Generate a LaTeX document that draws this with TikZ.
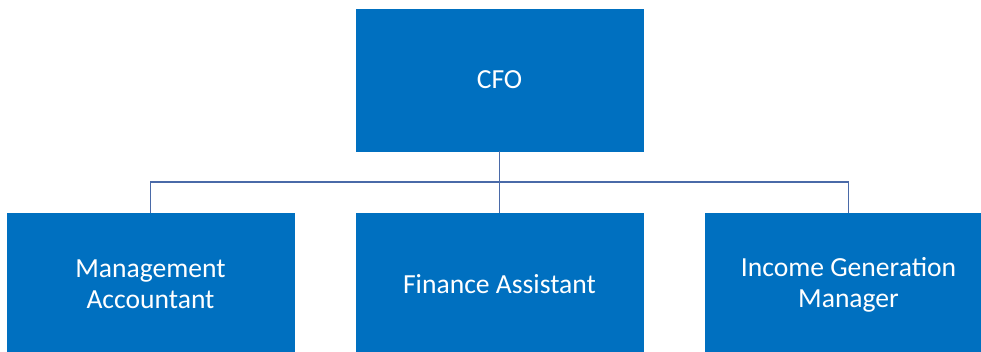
\documentclass[tikz,border=0pt]{standalone}
\usepackage{fontspec}
\setmainfont{Carlito}
\definecolor{boxblue}{HTML}{0070C0}
\definecolor{linkblue}{HTML}{4A6AA8}
\tikzset{
  rolebox/.style={draw=boxblue, fill=boxblue, rectangle, minimum width=215.25pt, minimum height=106.5pt, text=white, align=center, font=\fontsize{20.7}{23.3}\selectfont, inner sep=0pt},
  link/.style={draw=linkblue, line width=1.1pt}
}
\begin{document}
\begin{tikzpicture}[x=0.75pt, y=-0.75pt]
\clip (0,0) rectangle (981,352);
% Top
\node[rolebox] (cfo) at (499.5,80) {CFO};

% Staff
\node[rolebox] (ma) at (150.5,284.5) {Management\\Accountant};
\node[rolebox] (fa) at (499.5,284.5) {Finance Assistant};
\node[rolebox] (igm) at (848.5,284.5) {Income Generation\\Manager};

% Connections
\coordinate (bus) at (499.5,182);
\draw[link] (cfo) -- (bus);
\draw[link] (bus) -| (ma);
\draw[link] (bus) -- (fa);
\draw[link] (bus) -| (igm);
\end{tikzpicture}
\end{document}
